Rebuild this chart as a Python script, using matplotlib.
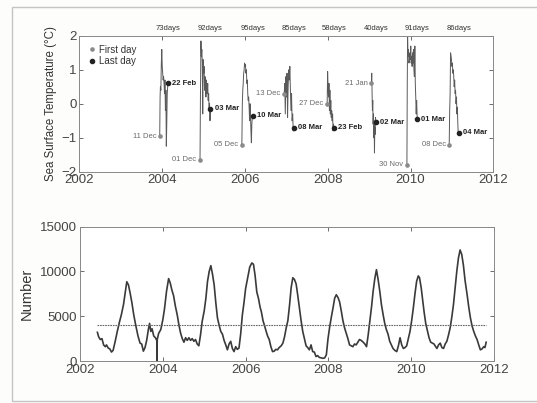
import pandas as pd
import matplotlib
matplotlib.use('Agg')
import matplotlib.pyplot as plt
from matplotlib.patches import Rectangle

plt.rcParams['font.family'] = ['Liberation Sans', 'DejaVu Sans']

# ---- top panel: SST anomaly during each event ----
first_dates = ['2003-12-11', '2004-12-01', '2005-12-05', '2006-12-13',
               '2007-12-27', '2009-01-21', '2009-11-30', '2010-12-08']
durations = [73, 92, 95, 85, 58, 40, 91, 86]
first_labels = ['11 Dec', '01 Dec', '05 Dec', '13 Dec', '27 Dec', '21 Jan', '30 Nov', '08 Dec']
last_labels = ['22 Feb', '03 Mar', '10 Mar', '08 Mar', '23 Feb', '02 Mar', '01 Mar', '04 Mar']

trace_days = [
    [0, 3, 6, 10, 14, 18, 22, 26, 30, 34, 38, 42, 46, 50, 54, 58, 62, 66, 70, 73],
    [0, 4, 8, 12, 16, 20, 24, 28, 32, 36, 40, 44, 48, 52, 56, 60, 64, 68, 72, 76, 80, 84, 88, 92],
    [0, 4, 8, 12, 16, 20, 24, 28, 32, 36, 40, 44, 48, 52, 56, 60, 64, 68, 72, 76, 80, 84, 88, 92, 95],
    [0, 5, 10, 15, 20, 25, 30, 35, 40, 45, 50, 55, 60, 65, 70, 75, 80, 85],
    [0, 4, 8, 12, 16, 20, 24, 28, 32, 36, 40, 44, 48, 52, 56, 58],
    [0, 3, 6, 9, 12, 15, 18, 21, 24, 27, 30, 33, 36, 40],
    [0, 3, 6, 10, 14, 18, 22, 26, 30, 34, 38, 42, 46, 50, 54, 58, 62, 66, 70, 74, 78, 82, 86, 91],
    [0, 4, 8, 12, 16, 20, 24, 28, 32, 36, 40, 44, 48, 52, 56, 60, 64, 68, 72, 76, 80, 86],
]
trace_sst = [
    [-0.95, 0.2, 0.5, 0.4, 1.2, 1.6, 1.1, 0.9, 0.7, 0.8, 0.6, 0.3, 0.7, -0.2, 0.4, -1.25, -0.6, 0.3, 0.5, 0.6],
    [-1.65, 0.3, 1.85, 1.4, 1.6, 1.2, -0.3, 1.3, 0.9, 1.1, 0.4, 0.8, 0.6, 0.2, 0.7, 0.5, 0.3, 0.6, 0.1, 0.3,
     -0.2, 0.0, -0.5, -0.15],
    [-1.2, 0.0, 0.4, 0.6, 0.9, 1.0, 1.2, 1.1, 1.15, 0.9, 1.0, 0.6, 0.7, 0.3, 0.1, 0.2, -0.1, -0.5, 0.0, -0.3,
     -0.8, -1.15, -0.6, -0.4, -0.35],
    [0.3, 0.6, -0.3, 0.8, 0.2, 0.9, -0.4, 0.5, 1.0, 0.7, 1.1, 0.4, -0.2, 0.3, -0.5, -0.3, -0.8, -0.7],
    [0.0, 0.95, 0.5, 0.2, 0.6, -0.2, 0.4, -0.3, 0.1, -0.4, -0.2, -0.5, -0.3, -0.8, -0.6, -0.7],
    [0.6, 0.9, 0.3, -0.2, 0.1, -0.6, -0.3, -1.0, -0.5, -1.45, -0.7, -0.9, -0.4, -0.55],
    [-1.8, 0.5, 2.0, 1.4, 1.6, 1.2, 1.3, 1.5, 1.3, 1.7, 1.2, 1.4, 1.1, 1.5, 1.2, 1.6, 1.0, 0.8, 1.7, 0.6,
     0.2, -0.3, 0.1, -0.45],
    [-1.2, -0.2, 0.3, 1.5, 1.4, 1.3, 1.1, 1.2, 0.9, 1.0, 0.8, 0.5, 0.7, 0.3, 0.4, 0.0, 0.2, -0.3, -0.1, -0.6,
     -0.9, -0.85],
]

# ---- bottom panel: number time series ----
num_years = [
    2002.42, 2002.45, 2002.49, 2002.53, 2002.57, 2002.61, 2002.64, 2002.68, 2002.72, 2002.76, 2002.80,
    2002.85, 2002.90, 2002.95, 2003.00, 2003.05, 2003.09, 2003.13, 2003.17, 2003.21, 2003.25, 2003.30,
    2003.35, 2003.40, 2003.45, 2003.49, 2003.53, 2003.57, 2003.61, 2003.65, 2003.68, 2003.71, 2003.74,
    2003.78, 2003.82, 2003.855, 2003.86, 2003.865, 2003.90, 2003.95, 2004.00, 2004.04, 2004.09, 2004.14,
    2004.18, 2004.22, 2004.26, 2004.30, 2004.35, 2004.39, 2004.43, 2004.47, 2004.51, 2004.55, 2004.59,
    2004.63, 2004.67, 2004.71, 2004.75, 2004.79, 2004.83, 2004.87, 2004.91, 2004.95, 2005.00, 2005.04,
    2005.08, 2005.12, 2005.16, 2005.20, 2005.24, 2005.28, 2005.32, 2005.36, 2005.40, 2005.44, 2005.48,
    2005.52, 2005.56, 2005.60, 2005.64, 2005.68, 2005.72, 2005.76, 2005.80, 2005.84, 2005.88, 2005.92,
    2005.96, 2006.00, 2006.05, 2006.10, 2006.15, 2006.19, 2006.23, 2006.27, 2006.31, 2006.35, 2006.38,
    2006.42, 2006.46, 2006.49, 2006.53, 2006.57, 2006.61, 2006.65, 2006.69, 2006.73, 2006.77, 2006.81,
    2006.86, 2006.90, 2006.94, 2006.98, 2007.02, 2007.06, 2007.10, 2007.14, 2007.18, 2007.22, 2007.26,
    2007.30, 2007.34, 2007.38, 2007.42, 2007.46, 2007.50, 2007.54, 2007.58, 2007.62, 2007.66, 2007.70,
    2007.74, 2007.78, 2007.82, 2007.87, 2007.91, 2007.95, 2007.99, 2008.03, 2008.07, 2008.11, 2008.15,
    2008.19, 2008.23, 2008.27, 2008.31, 2008.35, 2008.39, 2008.43, 2008.47, 2008.51, 2008.55, 2008.59,
    2008.63, 2008.67, 2008.71, 2008.75, 2008.79, 2008.84, 2008.88, 2008.92, 2008.96, 2009.00, 2009.04,
    2009.08, 2009.12, 2009.16, 2009.20, 2009.24, 2009.28, 2009.32, 2009.36, 2009.40, 2009.44, 2009.48,
    2009.52, 2009.56, 2009.60, 2009.65, 2009.69, 2009.73, 2009.77, 2009.81, 2009.85, 2009.89, 2009.93,
    2009.97, 2010.01, 2010.05, 2010.09, 2010.13, 2010.17, 2010.20, 2010.24, 2010.27, 2010.31, 2010.35,
    2010.39, 2010.43, 2010.47, 2010.51, 2010.55, 2010.59, 2010.62, 2010.66, 2010.70, 2010.74, 2010.78,
    2010.82, 2010.86, 2010.90, 2010.94, 2010.98, 2011.02, 2011.06, 2011.10, 2011.14, 2011.18, 2011.22,
    2011.26, 2011.30, 2011.35, 2011.39, 2011.43, 2011.47, 2011.51, 2011.55, 2011.59, 2011.63, 2011.67,
    2011.71, 2011.75, 2011.78, 2011.81,
]
num_values = [
    3200, 2700, 2400, 2500, 1800, 1600, 1800, 1450, 1350, 1000, 1200,
    2200, 3300, 4300, 5200, 6300, 7600, 8850, 8500, 7600, 6600, 5100,
    3900, 2800, 2000, 1900, 1100, 1500, 2300, 3500, 4200, 3300, 3600,
    2800, 2600, 2300, 0, 2400, 3100, 3500, 4600, 5800, 7800, 9200,
    8700, 7900, 7300, 6200, 5100, 4000, 3100, 2500, 2100, 2600, 2300,
    2600, 2300, 2500, 2200, 2400, 1900, 1700, 2900, 4400, 5600, 7000,
    8900, 10000, 10650, 9700, 8500, 6500, 4800, 4000, 3300, 3000, 2300,
    1800, 1250, 1900, 2200, 1400, 1050, 1600, 1300, 1450, 3000, 5100,
    6500, 8100, 9300, 10500, 10950, 10800, 9500, 7700, 7000, 6000, 5500,
    4500, 3900, 3400, 2800, 2400, 1600, 1050, 1100, 1300, 1250, 1500,
    1700, 2000, 2700, 3700, 4500, 6200, 8200, 9300, 9100, 8600, 7300,
    5900, 4500, 3300, 2500, 1700, 1500, 1250, 1800, 1050, 1000, 500,
    600, 400, 350, 300, 350, 700, 2500, 3800, 4900, 5900, 7000,
    7400, 7100, 6600, 5600, 4500, 3700, 3100, 2500, 1800, 1700, 1600,
    1900, 1800, 2100, 2400, 2300, 2100, 1900, 1600, 2900, 4400, 6000,
    7800, 9200, 10200, 9100, 7800, 6300, 5200, 4200, 3500, 3000, 2200,
    1800, 1400, 1200, 1050, 1700, 2600, 1800, 1400, 1500, 1700, 2500,
    3300, 4500, 5900, 7500, 8900, 9500, 9300, 8200, 7000, 5500, 4200,
    3400, 2600, 2100, 2000, 1900, 1600, 1400, 1800, 2000, 1500, 1400,
    1900, 2200, 2900, 3700, 4900, 6300, 8200, 10000, 11500, 12400, 11900,
    10700, 9000, 7400, 6000, 4800, 3900, 3300, 2800, 2400, 1800, 1250,
    1350, 1600, 1500, 2100,
]
threshold = 4000


def dec_year(d):
    d = pd.Timestamp(d)
    n = 366 if d.is_leap_year else 365
    return d.year + (d.dayofyear - 1) / n


fig = plt.figure(figsize=(5.37, 4.03), dpi=100, facecolor='#fdfdfb')
ax1 = fig.add_axes([0.1477, 0.574, 0.771, 0.337])
ax2 = fig.add_axes([0.1490, 0.1042, 0.771, 0.3333])

# page frame from the scan
fig.patches.append(Rectangle((12 / 537, 2 / 403), 1.0, 394 / 403, transform=fig.transFigure,
                             fill=False, edgecolor='#c4c4c4', linewidth=1.0))

for i in range(len(first_dates)):
    x0 = dec_year(first_dates[i])
    xs = [x0 + d / 365.25 for d in trace_days[i]]
    ys = trace_sst[i]
    ax1.plot(xs, ys, color='#5a5a5a', linewidth=0.7, zorder=2)
    ax1.plot(xs[0], ys[0], 'o', ms=2.3, color='#8a8a8a', zorder=3)
    ax1.plot(xs[-1], ys[-1], 'o', ms=3.0, color='#222222', zorder=3)
    ax1.annotate(first_labels[i], (xs[0], ys[0]), xytext=(-2.5, 0), textcoords='offset points',
                 ha='right', va='center', fontsize=5.5, color='#6a6a6a')
    ax1.annotate(last_labels[i], (xs[-1], ys[-1]), xytext=(3, 0), textcoords='offset points',
                 ha='left', va='center', fontsize=5.5, color='#222222', fontweight='bold')
    ax1.text(xs[-1], 1.03, '%ddays' % durations[i], transform=ax1.get_xaxis_transform(),
             ha='center', va='bottom', fontsize=5.5, color='#333333')

ax1.plot([], [], 'o', ms=2.3, color='#8a8a8a', label='First day')
ax1.plot([], [], 'o', ms=3.0, color='#222222', label='Last day')
ax1.legend(loc='upper left', frameon=False, fontsize=7, handlelength=0.8, handletextpad=0.3,
           labelspacing=0.15, borderaxespad=0.5, labelcolor='#333333')

ax1.set_xlim(2002, 2012)
ax1.set_ylim(-2, 2)
ax1.set_yticks([-2, -1, 0, 1, 2])
ax1.set_ylabel('Sea Surface Temperature (\u00b0C)', fontsize=8.3, color='#333333', labelpad=3)

ax2.plot(num_years, num_values, color='#3a3a3a', linewidth=1.2)
ax2.plot([num_years[0], num_years[-1]], [threshold, threshold], color='#666666',
         linewidth=0.8, linestyle=(0, (1.5, 0.8)))
ax2.set_xlim(2002, 2012)
ax2.set_ylim(0, 15000)
ax2.set_yticks([0, 5000, 10000, 15000])
ax2.set_ylabel('Number', fontsize=10.5, color='#333333', labelpad=5)

for ax in (ax1, ax2):
    ax.set_facecolor('white')
    ax.set_xticks([2002, 2004, 2006, 2008, 2010, 2012])
    ax.tick_params(direction='in', top=True, right=True, length=3, width=0.6,
                   labelsize=9.5, colors='#555555', labelcolor='#444444', pad=2)
    for s in ax.spines.values():
        s.set_color('#888888')
        s.set_linewidth(0.7)

plt.savefig('out.png', dpi=100, facecolor=fig.get_facecolor())
